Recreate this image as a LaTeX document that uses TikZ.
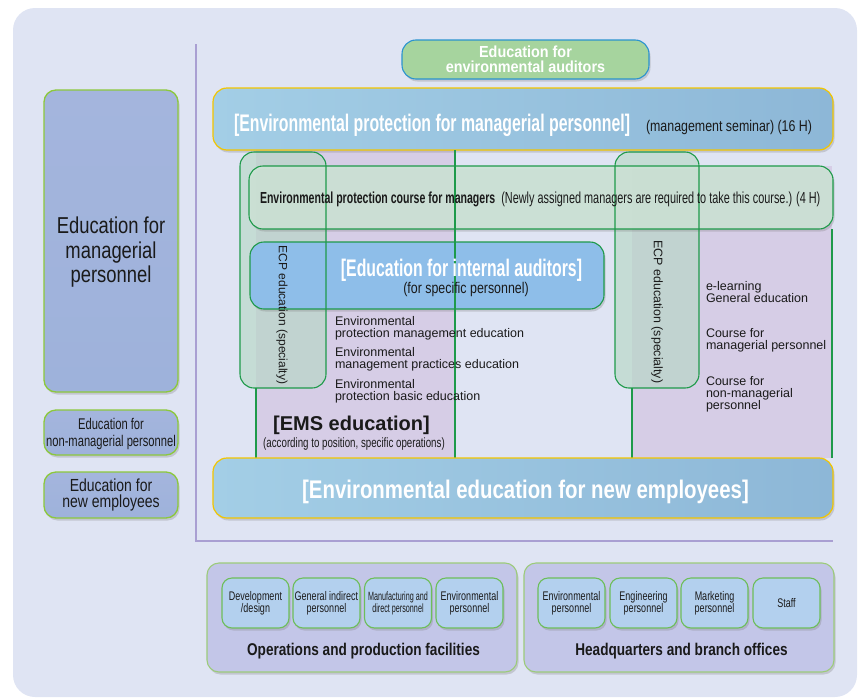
\documentclass[tikz,border=0pt]{standalone}
\usepackage{fontspec}
\setmainfont{Liberation Sans}
\newfontfamily\fsA[FakeStretch=0.72]{Liberation Sans}
\newfontfamily\fsB[FakeStretch=0.80]{Liberation Sans}
\newfontfamily\fsC[FakeStretch=0.60]{Liberation Sans}
\newfontfamily\fsD[FakeStretch=0.68]{Liberation Sans}
\newfontfamily\fsT[FakeStretch=0.66]{Liberation Sans}
\newfontfamily\fsN[FakeStretch=0.90]{Liberation Sans}
\usetikzlibrary{shadows}
\definecolor{cPanel}{HTML}{DFE4F3}
\definecolor{cLeft}{HTML}{A4B5DD}
\definecolor{cLeftB}{HTML}{9EB2DB}
\definecolor{cLgreen}{HTML}{8CC83C}
\definecolor{cAudFill}{HTML}{A6D49E}
\definecolor{cAudLine}{HTML}{2B93CF}
\definecolor{cBlueL}{HTML}{A3CEE6}
\definecolor{cBlueR}{HTML}{8DB7D7}
\definecolor{cYellow}{HTML}{F2C500}
\definecolor{cCourse}{HTML}{CDE3D6}
\definecolor{cGreen}{HTML}{1E9A4A}
\definecolor{cEcp}{HTML}{B4D8C2}
\definecolor{cIntAud}{HTML}{8EBEE9}
\definecolor{cLav}{HTML}{D6CDE6}
\definecolor{cGrp}{HTML}{C3C6E8}
\definecolor{cGrpLine}{HTML}{9CCB7A}
\definecolor{cInner}{HTML}{B3D0EE}
\definecolor{cInnerLine}{HTML}{6DBE5A}
\definecolor{cAxis}{HTML}{A99FD2}
\definecolor{cTxt}{HTML}{1A1A1A}
\begin{document}
\begin{tikzpicture}[x=1pt,y=-1pt,
  shad/.style={drop shadow={opacity=0.3, shadow xshift=1.5pt, shadow yshift=-2.5pt}},
  lbox/.style={draw=cLgreen, line width=1.3pt, top color=cLeft, bottom color=cLeftB, rounded corners=12pt, shad, inner sep=0pt},
  bluebox/.style={draw=cYellow, line width=1.2pt, left color=cBlueL, right color=cBlueR, rounded corners=14pt, shad, inner sep=0pt},
  audbox/.style={draw=cAudLine, line width=1.1pt, fill=cAudFill, rounded corners=14pt, shad, inner sep=0pt},
  ecpfill/.style={fill=cEcp, fill opacity=0.6, draw=none, rounded corners=14pt, inner sep=0pt},
  ecpline/.style={draw=cGreen, line width=1.1pt, rounded corners=14pt, inner sep=0pt},
  coursebox/.style={draw=cGreen, line width=1.1pt, fill=cCourse, fill opacity=0.9, rounded corners=14pt, shad, inner sep=0pt},
  intbox/.style={draw=cGreen, line width=1.1pt, fill=cIntAud, rounded corners=14pt, shad, inner sep=0pt},
  lavreg/.style={fill=cLav, draw=none, inner sep=0pt},
  gline/.style={draw=cGreen, line width=1.1pt},
  grpbox/.style={draw=cGrpLine, line width=1.1pt, fill=cGrp, rounded corners=12pt, shad, inner sep=0pt},
  innerbox/.style={draw=cInnerLine, line width=1.1pt, fill=cInner, rounded corners=10pt, shad, inner sep=0pt, minimum width=67, minimum height=50},
  txt/.style={inner sep=0pt, outer sep=0pt, text=cTxt},
  wtxt/.style={inner sep=0pt, outer sep=0pt, text=white},
]
\useasboundingbox (0,0) rectangle (862,699);
% panel
\node[fill=cPanel, draw=none, rounded corners=22pt, minimum width=844, minimum height=689, inner sep=0pt] (panel) at (435,352.5) {};
% axis
\coordinate (axT) at (196,44);
\coordinate (axC) at (196,541);
\coordinate (axR) at (833,541);
\draw[cAxis, line width=1.1pt] (axT) -- (axC) -- (axR);

% left boxes
\node[lbox, minimum width=134, minimum height=302] (mgr) at (111,241) {};
\node[lbox, minimum width=134, minimum height=45] (nonmgr) at (111,432.5) {};
\node[lbox, minimum width=134, minimum height=46] (newemp) at (111,495) {};
\node[txt, align=center, font=\fsB\fontsize{23}{24.5}\selectfont] (mgrT) at (111,252.5) {Education for\\managerial\\personnel};
\node[txt, align=center, font=\fsA\fontsize{15.5}{17}\selectfont] (nonmgrT) at (111,434) {Education for\\non-managerial personnel};
\node[txt, align=center, font=\fsB\fontsize{17.5}{16.5}\selectfont] (newempT) at (111,495) {Education for\\new employees};

% lavender regions
\node[lavreg, minimum width=199, minimum height=308] (emsreg) at (355.5,304) {};
\node[lavreg, minimum width=200, minimum height=292] (rightreg) at (732,312) {};

% top boxes
\node[audbox, minimum width=247, minimum height=39] (aud) at (525.5,59.5) {};
\node[wtxt, align=center, font=\fsN\bfseries\fontsize{16}{15.5}\selectfont] (audT) at (525.5,59.5) {Education for\\environmental auditors};
\node[bluebox, minimum width=620, minimum height=62] (epm) at (523,119) {};
\node[wtxt, anchor=base west, font=\fsT\bfseries\fontsize{24}{28}\selectfont] (epmT) at (234,131.5) {[Environmental protection for managerial personnel]};
\node[txt, anchor=base west, font=\fsB\fontsize{15.5}{18}\selectfont] (epmS) at (646,131.5) {(management seminar) (16 H)};

% ECP fills
\node[ecpfill, minimum width=86, minimum height=236] (ecpL) at (283,270) {};
\node[ecpfill, minimum width=84, minimum height=236] (ecpR) at (657,270) {};

% course box
\node[coursebox, minimum width=584, minimum height=63] (course) at (541,197.5) {};
% internal auditors box
\node[intbox, minimum width=354, minimum height=67] (intaud) at (427,275.5) {};

% ECP outlines
\node[ecpline, minimum width=86, minimum height=236] (ecpLo) at (283,270) {};
\node[ecpline, minimum width=84, minimum height=236] (ecpRo) at (657,270) {};

% vertical green lines
\coordinate (emsLa) at (256,388);
\coordinate (emsLb) at (256,458);
\coordinate (emsRa) at (455,150);
\coordinate (emsRb) at (455,458);
\coordinate (rrLa) at (632,388);
\coordinate (rrLb) at (632,458);
\coordinate (rrRa) at (832,229);
\coordinate (rrRb) at (832,458);
\draw[gline] (emsLa) -- (emsLb);
\draw[gline] (emsRa) -- (emsRb);
\draw[gline] (rrLa) -- (rrLb);
\draw[gline] (rrRa) -- (rrRb);

% texts
\node[txt, anchor=base west, font=\fsD\fontsize{16}{18}\selectfont] (courseT) at (260,203.5) {{\fsT\bfseries Environmental protection course for managers}\hspace{3pt} (Newly assigned managers are required to take this course.) (4 H)};
\node[wtxt, anchor=base, font=\fsT\bfseries\fontsize{24}{28}\selectfont] (intaudT) at (461.5,276) {[Education for internal auditors]};
\node[txt, anchor=base, font=\fsB\fontsize{15.5}{18}\selectfont] (intaudS) at (466,293) {(for specific personnel)};
\node[txt, rotate=-90, font=\fontsize{12}{14}\selectfont] (ecpLT) at (282,315) {ECP education (specialty)};
\node[txt, rotate=-90, font=\fontsize{12.4}{14}\selectfont] (ecpRT) at (657,312) {ECP education (specialty)};

\node[txt, anchor=west, align=left, font=\fontsize{12.5}{12}\selectfont] (l1) at (335,328) {Environmental\\protection management education};
\node[txt, anchor=west, align=left, font=\fontsize{12.5}{12}\selectfont] (l2) at (335,359) {Environmental\\management practices education};
\node[txt, anchor=west, align=left, font=\fontsize{12.5}{12}\selectfont] (l3) at (335,391) {Environmental\\protection basic education};
\node[txt, anchor=base, font=\bfseries\fontsize{20}{24}\selectfont] (emsT) at (351.5,430) {[EMS education]};
\node[txt, anchor=base, font=\fsA\fontsize{13.5}{16}\selectfont] (emsS) at (354,447) {(according to position, specific operations)};

\node[txt, anchor=west, align=left, font=\fontsize{12.5}{12}\selectfont] (r1) at (706,292) {e-learning\\General education};
\node[txt, anchor=west, align=left, font=\fontsize{12.5}{12}\selectfont] (r2) at (706,340) {Course for\\managerial personnel};
\node[txt, anchor=west, align=left, font=\fontsize{12.5}{12}\selectfont] (r3) at (706,394) {Course for\\non-managerial\\personnel};

% new employees box
\node[bluebox, minimum width=620, minimum height=60] (newbox) at (523,488) {};
\node[wtxt, anchor=base, font=\fsB\bfseries\fontsize{25.5}{28}\selectfont] (newboxT) at (525.5,498) {[Environmental education for new employees]};

% bottom groups
\node[grpbox, minimum width=310, minimum height=109] (grpL) at (362,617.5) {};
\node[grpbox, minimum width=310, minimum height=109] (grpR) at (679,617.5) {};
\node[txt, anchor=base, font=\fsB\bfseries\fontsize{17}{20}\selectfont] (grpLT) at (363.5,655) {Operations and production facilities};
\node[txt, anchor=base, font=\fsB\bfseries\fontsize{17}{20}\selectfont] (grpRT) at (681.5,655) {Headquarters and branch offices};

\node[innerbox] (b1) at (255.5,603) {};
\node[innerbox] (b2) at (326.5,603) {};
\node[innerbox] (b3) at (398,603) {};
\node[innerbox] (b4) at (469.5,603) {};
\node[innerbox] (b5) at (571.5,603) {};
\node[innerbox] (b6) at (643.5,603) {};
\node[innerbox] (b7) at (714.5,603) {};
\node[innerbox] (b8) at (786.5,603) {};
\node[txt, align=center, font=\fsA\fontsize{12.5}{12}\selectfont] (b1T) at (b1) {Development\\/design};
\node[txt, align=center, font=\fsA\fontsize{12.5}{12}\selectfont] (b2T) at (b2) {General indirect\\personnel};
\node[txt, align=center, font=\fsC\fontsize{12}{12}\selectfont] (b3T) at (b3) {Manufacturing and\\direct personnel};
\node[txt, align=center, font=\fsA\fontsize{12.5}{12}\selectfont] (b4T) at (b4) {Environmental\\personnel};
\node[txt, align=center, font=\fsA\fontsize{12.5}{12}\selectfont] (b5T) at (b5) {Environmental\\personnel};
\node[txt, align=center, font=\fsA\fontsize{12.5}{12}\selectfont] (b6T) at (b6) {Engineering\\personnel};
\node[txt, align=center, font=\fsA\fontsize{12.5}{12}\selectfont] (b7T) at (b7) {Marketing\\personnel};
\node[txt, align=center, font=\fsA\fontsize{12.5}{12}\selectfont] (b8T) at (b8) {Staff};
\end{tikzpicture}
\end{document}
